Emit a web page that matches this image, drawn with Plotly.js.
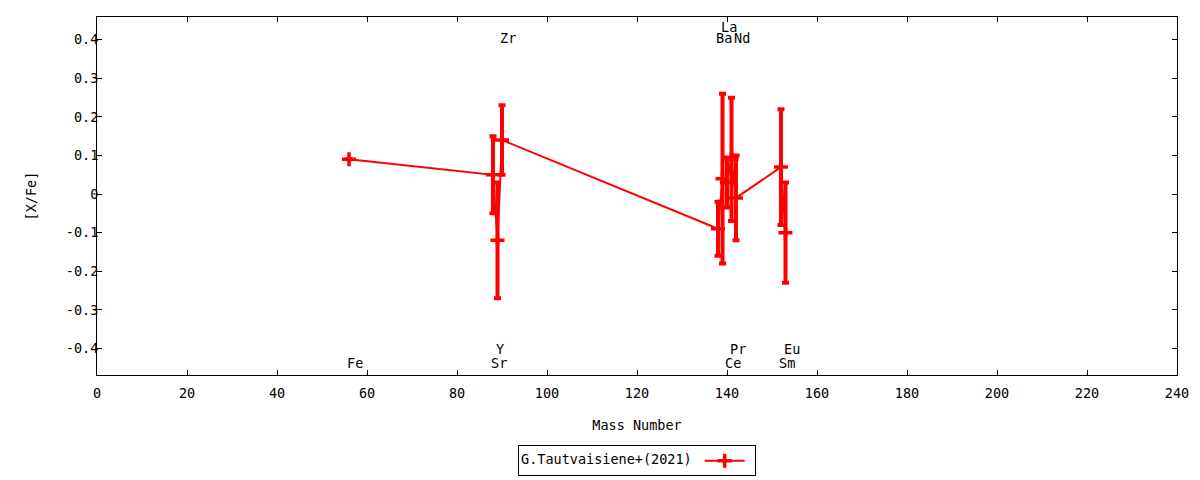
<!DOCTYPE html>
<html>
<head>
<meta charset="utf-8">
<script src="https://cdn.plot.ly/plotly-3.0.1.min.js"></script>
<style>
  html, body { margin: 0; padding: 0; background: #ffffff; }
  #chart { width: 1200px; height: 480px; }
</style>
</head>
<body>
<div id="chart"></div>
<script>
// ---- data ----
const seriesName = "G.Tautvaisiene+(2021)";
const elements   = ["Fe", "Sr", "Y", "Zr", "Ba", "La", "Ce", "Pr", "Nd", "Sm", "Eu"];
const massNumber = [56, 88, 89, 90, 138, 139, 140, 141, 142, 152, 153];
const xFe        = [0.09, 0.05, -0.12, 0.14, -0.09, 0.04, 0.03, 0.09, -0.01, 0.07, -0.10];
const xFeErr     = [0.0, 0.10, 0.15, 0.09, 0.07, 0.22, 0.065, 0.16, 0.11, 0.15, 0.13];

// element labels (gnuplot-style, placed at mass number)
const labelNames = ["Fe", "Sr", "Y", "Zr", "Ba", "La", "Ce", "Pr", "Nd", "Sm", "Eu"];
const labelX     = [56, 88, 89, 90, 138, 139, 140, 141, 142, 152, 153];
const labelY     = [-0.438, -0.438, -0.402, 0.404, 0.404, 0.433, -0.438, -0.402, 0.404, -0.438, -0.402];

const xTicks = [0, 20, 40, 60, 80, 100, 120, 140, 160, 180, 200, 220, 240];
const yTicks = [-0.4, -0.3, -0.2, -0.1, 0, 0.1, 0.2, 0.3, 0.4];
const yTickText = ["-0.4", "-0.3", "-0.2", "-0.1", "0", "0.1", "0.2", "0.3", "0.4"];

// ---- chart ----
const FONT = "DejaVu Sans Mono, Liberation Mono, monospace";
const FS = 13.5;
const RED = "#ff0000";

const trace = {
  type: "scatter",
  mode: "lines+markers",
  name: "",
  x: massNumber,
  y: xFe,
  text: elements,
  line: { color: RED, width: 2 },
  marker: { symbol: "cross-thin", size: 10, color: RED, line: { color: RED, width: 3.5 } },
  error_y: { type: "data", array: xFeErr, visible: true, color: RED, thickness: 4, width: 3.5 },
  showlegend: true,
  hoverinfo: "x+y+text"
};

const annotations = labelNames.map((t, i) => ({
  x: labelX[i], y: labelY[i], xref: "x", yref: "y",
  text: t, showarrow: false, xanchor: "left", yanchor: "middle",
  xshift: -4, font: { family: FONT, size: FS, color: "#000" }
}));

const axisCommon = {
  showgrid: false, zeroline: false, showline: true, mirror: "allticks",
  linecolor: "#000", linewidth: 1, ticks: "inside", ticklen: 5,
  tickcolor: "#000", tickwidth: 1, automargin: false,
  tickfont: { family: FONT, size: FS, color: "#000" }
};

const layout = {
  width: 1200, height: 480,
  margin: { l: 97, r: 23, t: 17, b: 105 },
  paper_bgcolor: "#fff", plot_bgcolor: "#fff",
  font: { family: FONT, size: FS, color: "#000" },
  xaxis: Object.assign({}, axisCommon, {
    range: [0, 240], tickmode: "array", tickvals: xTicks,
    ticktext: xTicks.map(String), ticklabelstandoff: 6,
    title: { text: "Mass Number", font: { family: FONT, size: FS }, standoff: 20 }
  }),
  yaxis: Object.assign({}, axisCommon, {
    range: [-0.469, 0.459], tickmode: "array", tickvals: yTicks, ticktext: yTickText,
    ticklabelstandoff: -5,
    title: { text: "[X/Fe]", font: { family: FONT, size: FS }, standoff: 26 }
  }),
  showlegend: true,
  legend: {
    orientation: "h", x: 0.5, xref: "paper", xanchor: "center",
    y: 0.04, yref: "container", yanchor: "middle",
    bordercolor: "#000", borderwidth: 1, bgcolor: "#fff",
    font: { family: FONT, size: 9, color: "#000" },
    title: { text: seriesName, side: "left", font: { family: FONT, size: FS, color: "#000" } },
    itemwidth: 40
  },
  annotations: annotations
};

Plotly.newPlot("chart", [trace], layout, { displayModeBar: false, staticPlot: true });
</script>
</body>
</html>
